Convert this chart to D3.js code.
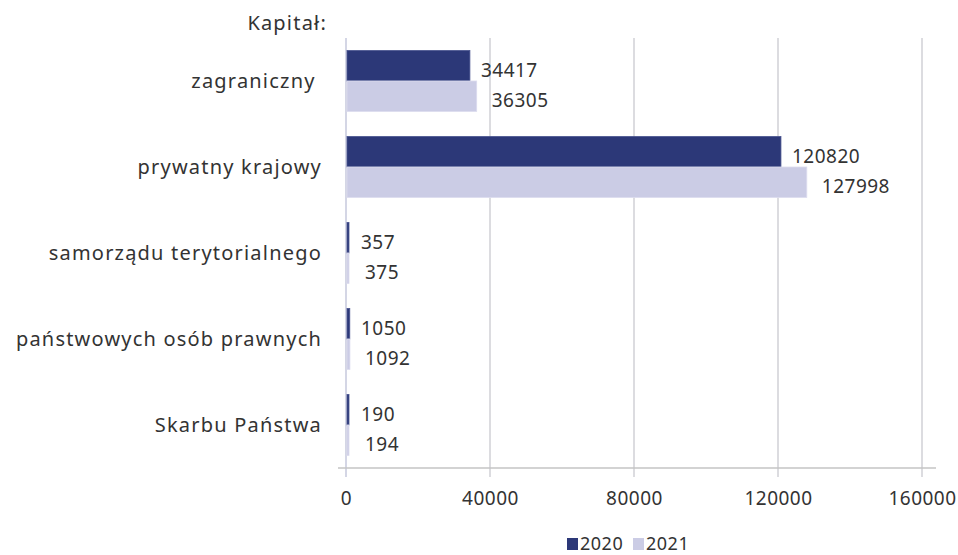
<!DOCTYPE html>
<html>
<head>
<meta charset="utf-8">
<script src="https://cdn.jsdelivr.net/npm/d3@7"></script>
<style>
  body { margin: 0; background: #fff; }
  svg text { font-family: "Noto Sans", "Open Sans", sans-serif; fill: #333; }
</style>
</head>
<body>
<svg width="958" height="555"></svg>
<script>
// Dane
const categories = ["zagraniczny ", "prywatny krajowy", "samorządu terytorialnego", "państwowych osób prawnych", "Skarbu Państwa"];
const series = ["2020", "2021"];
const values2020 = [34417, 120820, 357, 1050, 190];
const values2021 = [36305, 127998, 375, 1092, 194];
const xTicks = [0, 40000, 80000, 120000, 160000];
const colors = ["#2c3878", "#cbcce5"];

const svg = d3.select("svg");
const plot = { left: 346, right: 922, top: 38, bottom: 468 };

const x = d3.scaleLinear().domain([0, 160000]).range([plot.left, plot.right]);
const y = d3.scaleBand().domain(categories).range([plot.top, plot.bottom]).paddingInner(0.29).paddingOuter(0.145);
const ySub = d3.scaleBand().domain(series).range([0, y.bandwidth()]);

const rows = categories.map((c, i) => ({ cat: c, vals: [values2020[i], values2021[i]] }));

// Siatka
svg.append("g")
  .selectAll("line")
  .data(xTicks.slice(1))
  .join("line")
  .attr("x1", d => x(d)).attr("x2", d => x(d))
  .attr("y1", plot.top).attr("y2", plot.bottom + 9)
  .attr("stroke", "#c9c9cf").attr("stroke-width", 1.3);

// Oś pionowa
svg.append("line")
  .attr("x1", plot.left).attr("x2", plot.left)
  .attr("y1", plot.top).attr("y2", plot.bottom + 9)
  .attr("stroke", "#c6c8dc").attr("stroke-width", 1.5);

// Oś X
const xAxis = svg.append("g")
  .attr("transform", `translate(0,${plot.bottom})`)
  .call(d3.axisBottom(x).tickValues(xTicks).tickFormat(d3.format("d")).tickSize(0).tickPadding(24));
xAxis.select(".domain").attr("stroke", "#c4c4c4").attr("stroke-width", 1.3)
  .attr("d", `M${plot.left - 8},0H${plot.right + 14}`);
xAxis.selectAll("text")
  .style("font-size", "19px").style("letter-spacing", "0.5px")
  .attr("fill", "#333");

// Słupki
const groups = svg.append("g")
  .selectAll("g")
  .data(rows)
  .join("g")
  .attr("transform", d => `translate(0,${y(d.cat)})`);

groups.selectAll("rect")
  .data(d => d.vals.map((v, j) => ({ v, s: series[j], j })))
  .join("rect")
  .attr("x", x(0) + 1)
  .attr("y", d => ySub(d.s))
  .attr("width", d => Math.max(x(d.v) - x(0) - 1, 2))
  .attr("height", ySub.bandwidth())
  .attr("fill", d => colors[d.j])
  .attr("stroke", d => d.j === 0 ? "#4a5590" : "#dcdcee")
  .attr("stroke-width", 0.8);

groups.selectAll("text")
  .data(d => d.vals.map((v, j) => ({ v, s: series[j], j })))
  .join("text")
  .attr("x", d => Math.max(x(d.v), x(0) + 4) + (d.j === 0 ? 11 : 15))
  .attr("y", d => ySub(d.s) + ySub.bandwidth() / 2 + (d.j === 0 ? 5 : 4))
  .attr("dy", "0.35em")
  .style("font-size", "19px")
  .style("letter-spacing", "0.5px")
  .text(d => d.v);

// Etykiety kategorii
svg.append("g")
  .selectAll("text")
  .data(categories)
  .join("text")
  .attr("x", 322)
  .attr("y", d => y(d) + y.bandwidth() / 2)
  .attr("dy", "0.35em")
  .attr("text-anchor", "end")
  .style("font-size", "20px")
  .style("letter-spacing", "1.2px")
  .style("white-space", "pre")
  .text(d => d);

svg.append("text")
  .attr("x", 327).attr("y", 30)
  .attr("text-anchor", "end")
  .style("font-size", "20px")
  .style("letter-spacing", "1.2px")
  .text("Kapitał:");

// Legenda
const legend = svg.append("g").attr("transform", "translate(567,550)");
const items = legend.selectAll("g")
  .data(series)
  .join("g")
  .attr("transform", (d, i) => `translate(${i * 66},0)`);
items.append("rect")
  .attr("x", 0).attr("y", -12)
  .attr("width", 11).attr("height", 12)
  .attr("fill", (d, i) => colors[i]);
items.append("text")
  .attr("x", 13).attr("y", 0)
  .style("font-size", "18px")
  .style("letter-spacing", "0.5px")
  .text(d => d);
</script>
</body>
</html>
